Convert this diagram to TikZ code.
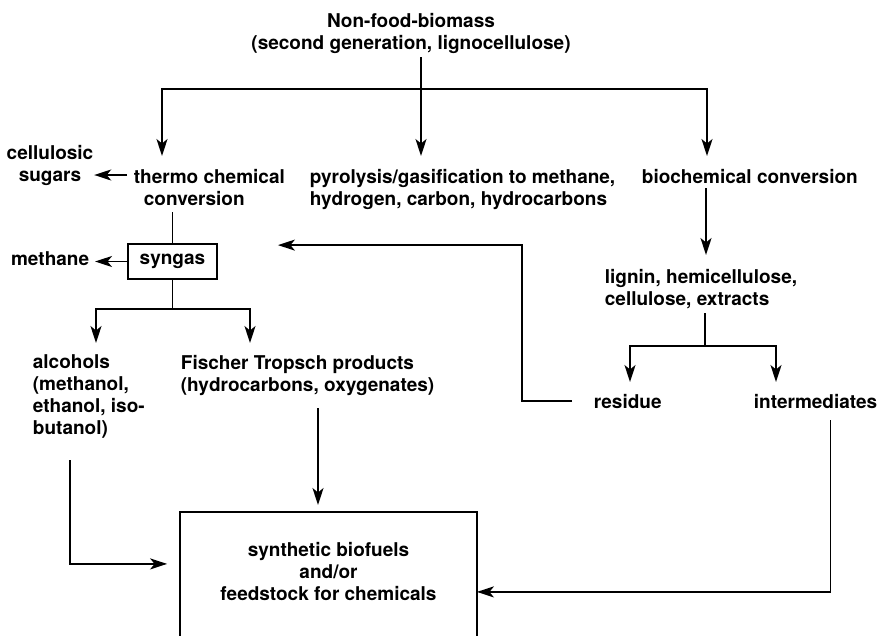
\documentclass[tikz,border=0pt]{standalone}
\usepackage{fontspec}
\setmainfont{TeX Gyre Heros}
\usetikzlibrary{arrows.meta}

\begin{document}
\begin{tikzpicture}[x=1pt, y=-1pt, line width=1.8pt,
    >={Stealth[length=17pt,width=11pt,inset=4.5pt]},
    every node/.style={font=\bfseries\fontsize{19}{22}\selectfont, inner sep=0pt}]
    \useasboundingbox (0,0) rectangle (882,635);

    \node[below, align=center] (bio) at (411,12) {Non-food-biomass\\(second generation, lignocellulose)};

    \node[below right, align=left] (thermo) at (133,168) {thermo chemical\\\hspace*{10pt}conversion};
    \node[below right, align=left] (pyro) at (309,168) {pyrolysis/gasification to methane,\\hydrogen, carbon, hydrocarbons};
    \node[below right] (biochem) at (641,168) {biochemical conversion};
    \node[below, align=center] (sugars) at (50,144) {cellulosic\\sugars};

    \node[draw, minimum width=89pt, minimum height=35pt] (syngas) at (172.5,261.5) {syngas};
    \node[left] (methane) at (90,259) {methane};

    \node[below right, align=left] (alcohols) at (32,354) {alcohols\\(methanol,\\ethanol, iso-\\butanol)};
    \node[below right, align=left] (fischer) at (180,354) {Fischer Tropsch products\\(hydrocarbons, oxygenates)};

    \node[below right, align=left] (lignin) at (604,268) {lignin, hemicellulose,\\cellulose, extracts};
    \node[below right] (residue) at (593,393) {residue};
    \node[below right] (inter) at (753,393) {intermediates};

    \node[below, align=center, minimum width=295pt, minimum height=118pt] (final) at (328.5,512)
        {synthetic biofuels\\and/or\\feedstock for chemicals};
    \draw ([yshift=-20pt]final.south west) -- (final.north west) -- (final.north east) -- ([yshift=-20pt]final.south east);

    \coordinate (top) at (421,89);
    \coordinate (cs) at (127,175);
    \coordinate (syn) at (172.5,309);
    \coordinate (al) at (70,460);
    \coordinate (ft) at (318,408);
    \coordinate (bc) at (706,188);
    \coordinate (lg) at (705,346);

    \draw (top) -- +(0,-32);
    \draw[->, shorten >=12pt] (top) -| ([xshift=29pt]thermo.north west);
    \draw[->, shorten >=12pt] (top) -| ([xshift=66pt]biochem.north west);
    \draw[->, shorten >=12pt] (top) -- (top |- pyro.north);

    \draw[->] (cs) -- (cs -| sugars.east);
    \draw (syngas.north) -- ++(0,-31);
    \draw[->, shorten >=5pt] (syngas.west) -- (syngas.west -| methane.east);

    \draw (syngas.south) -- (syn);
    \draw[->, shorten >=11pt] (syn) -| ([xshift=64pt]alcohols.north west);
    \draw[->, shorten >=11pt] (syn) -| ([xshift=70pt]fischer.north west);

    \draw[->, shorten >=13pt] (al) |- ([yshift=8pt]final.west);
    \draw[->, shorten >=7pt] (ft) -- (ft |- final.north);

    \draw[->, shorten >=13pt] (bc) -- (bc |- lignin.north);
    \draw (lg) -- ++(0,-33);
    \draw[->, shorten >=11pt] (lg) -| ([xshift=37pt]residue.north west);
    \draw[->, shorten >=11pt] (lg) -| ([xshift=23pt]inter.north west);

    \draw[->] ([xshift=-21pt]residue.west) -- ++(-50,0) |- ([xshift=60pt,yshift=-2pt]syngas.north east);
    \draw[->] ([xshift=15pt,yshift=-11pt]inter.south) |- ([yshift=-20pt]final.east);
\end{tikzpicture}
\end{document}
